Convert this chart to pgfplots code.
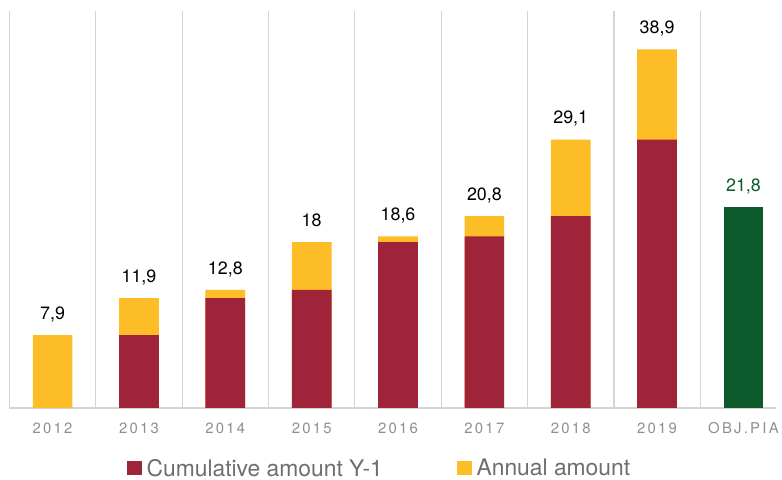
\documentclass[border=0pt]{standalone}
\usepackage{fontspec}
\setmainfont{TeX Gyre Heros}
\newfontfamily\tickfont[LetterSpace=15]{TeX Gyre Heros}
\usepackage{pgfplots}
\pgfplotsset{compat=1.18}
\definecolor{pred}{HTML}{A02439}
\definecolor{pyel}{HTML}{FDBD26}
\definecolor{pgreen}{HTML}{0D5A2C}
\definecolor{pgrid}{HTML}{D4D4D4}
\definecolor{ptick}{HTML}{8F8F8F}
\definecolor{pleg}{HTML}{6E6E6E}
\begin{document}
\begin{tikzpicture}[x=1pt,y=1pt]
\path (0,0) rectangle (782,481);
\begin{axis}[
  at={(9.5pt,70pt)}, anchor=south west,
  scale only axis, width=772.5pt, height=400pt,
  xmin=-0.5, xmax=8.379, ymin=0, ymax=43.07,
  ybar, bar width=40pt, bar shift=0pt,
  separate axis lines,
  axis x line=bottom, axis y line=none,
  x axis line style={draw=pgrid, line width=1.8pt, -},
  ytick=\empty,
  xtick={0,...,8},
  xticklabels={2012,2013,2014,2015,2016,2017,2018,2019,OBJ.PIA},
  major tick length=0pt,
  minor xtick={-0.5,0.5,...,7.5},
  xminorgrids, minor grid style={draw=pgrid, line width=1.2pt},
  minor tick length=0pt,
  xticklabel style={font=\tickfont\fontsize{15}{17}\selectfont, text=ptick, anchor=base, yshift=-26pt},
  every node near coord/.append style={font=\fontsize{18}{20}\selectfont, text=black, anchor=base, yshift=16pt},
  legend columns=2,
  legend image code/.code={\fill[#1] (0pt,-7pt) rectangle (14.5pt,7pt);},
  legend style={draw=none, fill=none, inner sep=0pt, at={(0.1535,-0.152)}, anchor=west,
    font=\fontsize{23}{25}\selectfont, text=pleg, nodes={inner xsep=2pt, inner ysep=2pt},
    /tikz/every odd column/.append style={column sep=3pt},
    /tikz/every even column/.append style={column sep=73pt}},
]
\addlegendimage{fill=pred, draw=none}
\addlegendentry{Cumulative amount Y-1}
\addlegendimage{fill=pyel, draw=none}
\addlegendentry{Annual amount}

% total (cumulative + annual)
\addplot[fill=pyel, draw=none, forget plot, point meta=explicit symbolic, nodes near coords]
  coordinates {(0,7.9)[7,9] (1,11.9)[11,9] (2,12.8)[12,8] (3,18)[18] (4,18.6)[18,6] (5,20.8)[20,8] (6,29.1)[29,1] (7,38.9)[38,9]};
% cumulative amount Y-1
\addplot[fill=pred, draw=none, forget plot]
  coordinates {(1,7.9) (2,11.9) (3,12.8) (4,18) (5,18.6) (6,20.8) (7,29.1)};
% objective
\addplot[fill=pgreen, draw=none, forget plot, point meta=explicit symbolic, nodes near coords,
  every node near coord/.append style={text=pgreen}]
  coordinates {(8,21.8)[21,8]};
\end{axis}
\end{tikzpicture}
\end{document}
